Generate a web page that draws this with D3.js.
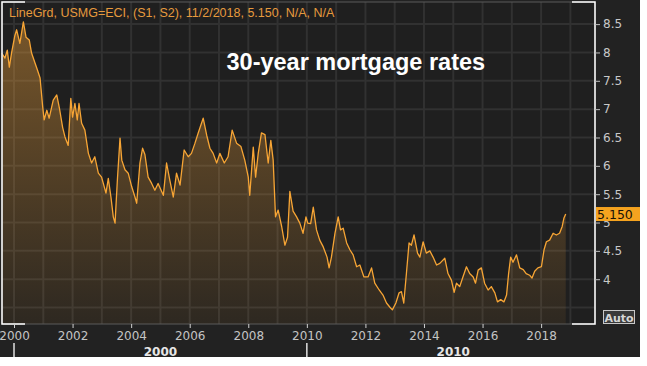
<!DOCTYPE html>
<html>
<head>
<meta charset="utf-8">
<script src="https://cdn.jsdelivr.net/npm/d3@7"></script>
<style>
  body { margin: 0; background: #fff; }
  svg { display: block; }
</style>
</head>
<body>
<svg id="chart" width="647" height="366"></svg>
<script>
// decimal year of each sample
var years = [
  1999.58, 1999.69, 1999.77, 1999.84, 1999.92, 2000.03, 2000.09, 2000.20, 2000.32, 2000.41,
  2000.52, 2000.60, 2000.72, 2000.80, 2000.89, 2000.98, 2001.03, 2001.12, 2001.20, 2001.34,
  2001.46, 2001.55, 2001.66, 2001.74, 2001.85, 2001.94, 2002.00, 2002.08, 2002.16, 2002.22,
  2002.31, 2002.42, 2002.54, 2002.65, 2002.76, 2002.88, 2002.99, 2003.14, 2003.22, 2003.31,
  2003.39, 2003.45, 2003.53, 2003.62, 2003.68, 2003.79, 2003.90, 2004.02, 2004.13, 2004.19,
  2004.30, 2004.39, 2004.47, 2004.58, 2004.70, 2004.81, 2004.92, 2005.10, 2005.21, 2005.32,
  2005.44, 2005.55, 2005.67, 2005.81, 2005.95, 2006.06, 2006.18, 2006.29, 2006.46, 2006.58,
  2006.69, 2006.80, 2006.92, 2007.03, 2007.18, 2007.31, 2007.45, 2007.60, 2007.75, 2007.88,
  2008.00, 2008.05, 2008.17, 2008.25, 2008.34, 2008.45, 2008.57, 2008.68, 2008.77, 2008.85,
  2008.93, 2009.02, 2009.14, 2009.25, 2009.34, 2009.42, 2009.53, 2009.65, 2009.76, 2009.87,
  2009.97, 2010.03, 2010.13, 2010.22, 2010.33, 2010.44, 2010.56, 2010.69, 2010.76, 2010.84,
  2010.96, 2011.07, 2011.15, 2011.24, 2011.36, 2011.47, 2011.58, 2011.70, 2011.81, 2011.95,
  2012.09, 2012.21, 2012.32, 2012.47, 2012.60, 2012.72, 2012.83, 2012.92, 2013.04, 2013.15,
  2013.23, 2013.31, 2013.40, 2013.49, 2013.57, 2013.66, 2013.78, 2013.86, 2013.97, 2014.08,
  2014.20, 2014.31, 2014.43, 2014.54, 2014.71, 2014.82, 2014.94, 2015.03, 2015.11, 2015.22,
  2015.33, 2015.45, 2015.56, 2015.68, 2015.76, 2015.85, 2015.96, 2016.07, 2016.19, 2016.30,
  2016.42, 2016.51, 2016.62, 2016.73, 2016.82, 2016.89, 2016.96, 2017.04, 2017.16, 2017.27,
  2017.39, 2017.49, 2017.61, 2017.69, 2017.78, 2017.89, 2018.01, 2018.10, 2018.18, 2018.29,
  2018.41, 2018.52, 2018.63, 2018.72, 2018.78, 2018.84
];

// 30-year mortgage rate (%)
var rates = [
  7.99, 7.90, 8.04, 7.74, 8.00, 8.30, 8.40, 8.16, 8.54, 8.27,
  8.22, 7.99, 7.81, 7.69, 7.55, 7.04, 6.81, 6.98, 6.84, 7.16,
  7.25, 7.02, 6.68, 6.51, 6.36, 7.19, 6.86, 7.10, 6.81, 7.10,
  6.75, 6.63, 6.22, 6.05, 6.16, 5.87, 5.80, 5.52, 5.78, 5.45,
  5.10, 4.99, 5.75, 6.49, 6.10, 5.93, 5.87, 5.63, 5.45, 5.34,
  6.05, 6.31, 6.20, 5.80, 5.69, 5.57, 5.69, 5.48, 6.05, 5.75,
  5.45, 5.87, 5.66, 6.28, 6.16, 6.22, 6.40, 6.58, 6.84, 6.54,
  6.31, 6.22, 6.05, 6.22, 6.05, 6.16, 6.63, 6.40, 6.34, 6.10,
  5.80, 5.48, 6.33, 5.80, 6.22, 6.58, 6.55, 6.05, 6.45, 6.10,
  5.10, 5.22, 4.93, 4.60, 4.74, 5.55, 5.20, 5.10, 4.99, 4.81,
  5.10, 4.99, 4.98, 5.27, 4.87, 4.69, 4.57, 4.39, 4.20, 4.39,
  4.81, 5.10, 4.87, 4.90, 4.64, 4.52, 4.43, 4.22, 4.25, 4.04,
  4.04, 4.20, 3.93, 3.81, 3.72, 3.58, 3.51, 3.46, 3.58, 3.76,
  3.78, 3.58, 4.10, 4.64, 4.60, 4.78, 4.46, 4.39, 4.66, 4.46,
  4.50, 4.39, 4.25, 4.28, 4.37, 4.10, 3.98, 3.77, 3.93, 3.87,
  4.04, 4.22, 4.10, 4.04, 3.93, 4.16, 4.20, 3.93, 3.81, 3.87,
  3.76, 3.60, 3.64, 3.60, 3.72, 4.10, 4.39, 4.30, 4.43, 4.20,
  4.17, 4.10, 4.07, 4.02, 4.14, 4.20, 4.22, 4.52, 4.66, 4.69,
  4.81, 4.78, 4.81, 4.93, 5.08, 5.15
];

var yTicks = [4, 4.5, 5, 5.5, 6, 6.5, 7, 7.5, 8, 8.5];
var yGrid = [3.5, 4, 4.5, 5, 5.5, 6, 6.5, 7, 7.5, 8, 8.5];
var xTicks = [2000, 2002, 2004, 2006, 2008, 2010, 2012, 2014, 2016, 2018];
var decades = [2000, 2010];
var lastLabel = "5.150";
var header = "LineGrd, USMG=ECI, (S1, S2), 11/2/2018, 5.150, N/A, N/A";
var title = "30-year mortgage rates";

var svg = d3.select("#chart");
var plot = { left: 2, right: 595, top: 2, bottom: 324 };

var x = d3.scaleLinear().domain([1999.59, 2019.84]).range([plot.left, plot.right]);
var y = d3.scaleLinear().domain([3.21, 8.89]).range([plot.bottom, plot.top]);

var data = years.map(function(d, i) { return { t: d, v: rates[i] }; });

// panel background
svg.append("rect")
  .attr("width", 640).attr("height", 357)
  .attr("fill", "#222222");
svg.append("rect")
  .attr("x", plot.left).attr("y", plot.top)
  .attr("width", plot.right - plot.left).attr("height", plot.bottom - plot.top)
  .attr("fill", "#1f1f1f");

// grid
var grid = svg.append("g").attr("stroke", "#313131").attr("stroke-width", 2);
grid.selectAll("line.h").data(yGrid).enter().append("line")
  .attr("x1", plot.left).attr("x2", plot.right)
  .attr("y1", function(d) { return y(d); })
  .attr("y2", function(d) { return y(d); });
grid.selectAll("line.v").data(d3.range(2000, 2020)).enter().append("line")
  .attr("y1", plot.top).attr("y2", plot.bottom)
  .attr("x1", function(d) { return x(d); })
  .attr("x2", function(d) { return x(d); });

// area fill with vertical fade
var grad = svg.append("defs").append("linearGradient")
  .attr("id", "fade")
  .attr("gradientUnits", "userSpaceOnUse")
  .attr("x1", 0).attr("x2", 0)
  .attr("y1", y(8.6)).attr("y2", plot.bottom);
grad.append("stop").attr("offset", 0).attr("stop-color", "#f2a33a").attr("stop-opacity", 0.42);
grad.append("stop").attr("offset", 1).attr("stop-color", "#f2a33a").attr("stop-opacity", 0.07);

var area = d3.area()
  .x(function(d) { return x(d.t); })
  .y0(plot.bottom)
  .y1(function(d) { return y(d.v); });

var line = d3.line()
  .x(function(d) { return x(d.t); })
  .y(function(d) { return y(d.v); });

svg.append("path").datum(data)
  .attr("d", area)
  .attr("fill", "url(#fade)");

svg.append("path").datum(data)
  .attr("d", line)
  .attr("fill", "none")
  .attr("stroke", "#f7a535")
  .attr("stroke-width", 1.3)
  .attr("stroke-linejoin", "round");

// frame: gray border, white sides and corners
var frame = svg.append("g").attr("fill", "none");
frame.append("rect")
  .attr("x", plot.left).attr("y", plot.top)
  .attr("width", plot.right - plot.left).attr("height", plot.bottom - plot.top)
  .attr("stroke", "#5a5a5a").attr("stroke-width", 1);
frame.append("path")
  .attr("stroke", "#ffffff").attr("stroke-width", 1.5)
  .attr("d",
    "M" + (plot.left + 23) + "," + plot.top + "H" + plot.left + "V" + plot.bottom + "H" + (plot.left + 23) +
    "M" + (plot.right - 23) + "," + plot.top + "H" + plot.right + "V" + plot.bottom + "H" + (plot.right - 23));

// right axis
var yAxis = svg.append("g")
  .attr("transform", "translate(" + plot.right + ",0)")
  .call(d3.axisRight(y).tickValues(yTicks).tickSize(5).tickPadding(3)
    .tickFormat(function(d) { return d3.format("")(d); }));
yAxis.select(".domain").remove();
yAxis.selectAll("line").attr("stroke", "#bdbdbd");
yAxis.selectAll("text")
  .attr("fill", "#c8c8c8")
  .attr("font-family", "'DejaVu Sans', sans-serif")
  .attr("font-size", "12px");

// bottom axis
var xAxis = svg.append("g")
  .attr("transform", "translate(0," + plot.bottom + ")")
  .call(d3.axisBottom(x).tickValues(xTicks).tickSize(4).tickPadding(3)
    .tickFormat(d3.format("d")));
xAxis.select(".domain").remove();
xAxis.selectAll("line").attr("stroke", "#d0d0d0");
xAxis.selectAll("text")
  .attr("fill", "#c4c4c4")
  .attr("font-family", "'DejaVu Sans', sans-serif")
  .attr("font-size", "12px");

// decade row
svg.selectAll("line.sep").data(decades).enter().append("line")
  .attr("x1", function(d) { return x(d); })
  .attr("x2", function(d) { return x(d); })
  .attr("y1", 343).attr("y2", 357)
  .attr("stroke", "#e0e0e0").attr("stroke-width", 1.5);
svg.selectAll("text.decade").data(decades).enter().append("text")
  .attr("x", function(d) { return (x(d) + x(d + 10)) / 2; })
  .attr("y", 356)
  .attr("text-anchor", "middle")
  .attr("fill", "#e6e6e6")
  .attr("font-family", "'DejaVu Sans', sans-serif")
  .attr("font-weight", "bold")
  .attr("font-size", "12px")
  .text(function(d) { return d; });

// last value badge
var last = data[data.length - 1];
svg.append("rect")
  .attr("x", plot.right + 1).attr("y", y(last.v) - 7)
  .attr("width", 44).attr("height", 14)
  .attr("fill", "#f5a31f");
svg.append("text")
  .attr("x", plot.right + 2).attr("y", y(last.v) + 5)
  .attr("fill", "#1a1206")
  .attr("font-family", "'DejaVu Sans', sans-serif")
  .attr("font-size", "12.5px")
  .text(lastLabel);

// Auto button
svg.append("rect")
  .attr("x", 603.5).attr("y", 310.5).attr("width", 31).attr("height", 13)
  .attr("fill", "#3a3a3a").attr("stroke", "#c8c8c8");
svg.append("text")
  .attr("x", 619).attr("y", 321.5)
  .attr("text-anchor", "middle")
  .attr("fill", "#d6d6d6")
  .attr("font-family", "'DejaVu Sans', sans-serif")
  .attr("font-weight", "bold")
  .attr("font-size", "11px")
  .text("Auto");

// header and title
svg.append("text")
  .attr("x", 9).attr("y", 17)
  .attr("fill", "#e69a3e")
  .attr("font-family", "'Liberation Sans', sans-serif")
  .attr("font-size", "12.5px")
  .text(header);

svg.append("text")
  .attr("x", 226.5).attr("y", 70)
  .attr("fill", "#ffffff")
  .attr("font-family", "'Liberation Sans', Arial, sans-serif")
  .attr("font-weight", "bold")
  .attr("font-size", "23.5px")
  .text(title);
</script>
</body>
</html>
